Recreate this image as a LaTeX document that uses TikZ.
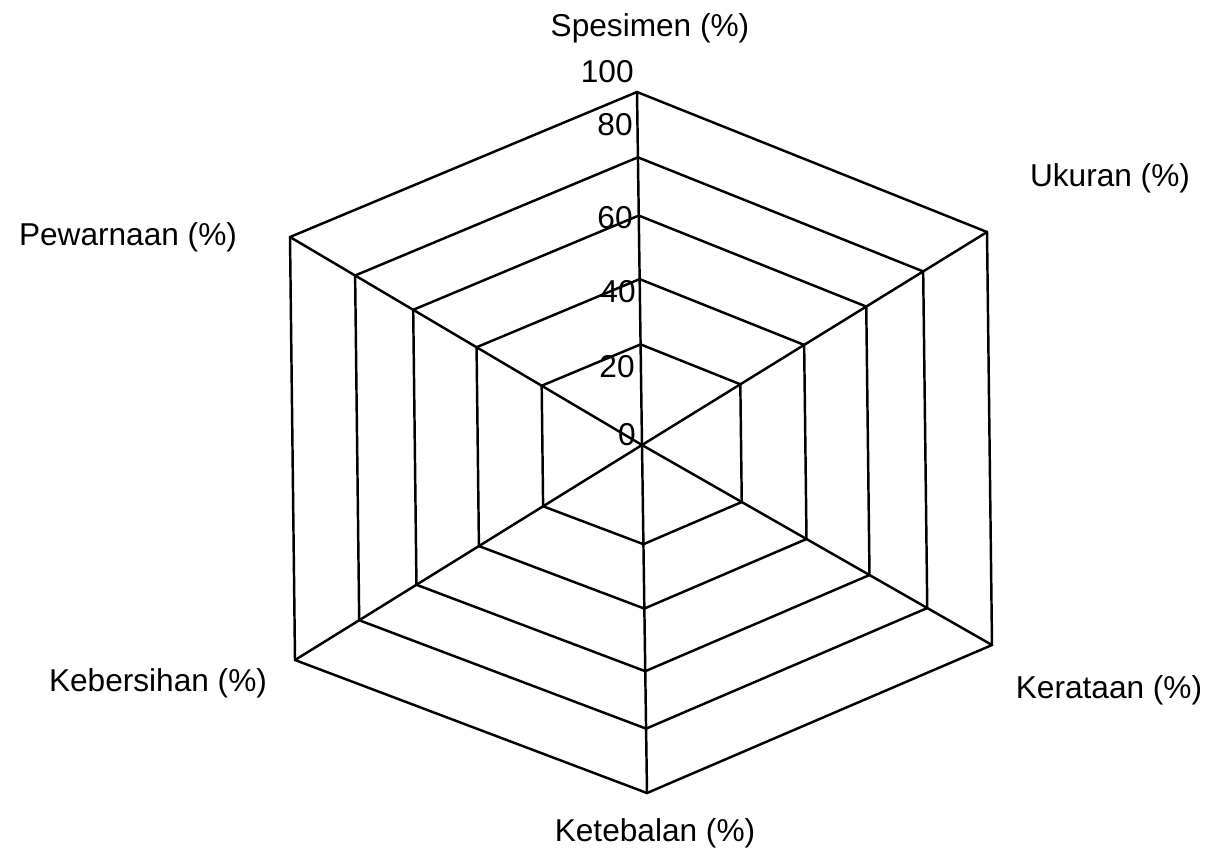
\documentclass[tikz,border=0pt]{standalone}
\usepackage{fontspec}
\setmainfont{Liberation Sans}
\usetikzlibrary{calc}

\begin{document}
\begin{tikzpicture}[
        x=0.02cm, y=-0.02cm,
        jaring/.style={line width=1.4pt, black, line join=miter},
        sumbu/.style={font=\fontsize{18}{20}\selectfont, inner sep=0pt},
        skala/.style={font=\fontsize{18}{20}\selectfont, inner sep=0pt, anchor=east}
    ]
        \useasboundingbox (0,0) rectangle (1223,860);

        \coordinate (pusat) at (642,445);
        \coordinate (spesimen) at (637,92);
        \coordinate (ukuran) at (987,232);
        \coordinate (kerataan) at (992,645);
        \coordinate (ketebalan) at (647,793);
        \coordinate (kebersihan) at (295,660);
        \coordinate (pewarnaan) at (290,237);

        % cincin 20 - 100
        \foreach \r in {0.285,0.47,0.65,0.815,1}
            \draw[jaring] ($(pusat)!\r!(spesimen)$) -- ($(pusat)!\r!(ukuran)$)
                -- ($(pusat)!\r!(kerataan)$) -- ($(pusat)!\r!(ketebalan)$)
                -- ($(pusat)!\r!(kebersihan)$) -- ($(pusat)!\r!(pewarnaan)$) -- cycle;

        % sumbu
        \foreach \v in {spesimen,ukuran,kerataan,ketebalan,kebersihan,pewarnaan}
            \draw[jaring] (pusat) -- (\v);

        \node[sumbu] (lspesimen) at (650,28) {Spesimen (\%)};
        \node[sumbu] (lukuran) at (1110,178) {Ukuran (\%)};
        \node[sumbu] (lkerataan) at (1109,690) {Kerataan (\%)};
        \node[sumbu] (lketebalan) at (655,833) {Ketebalan (\%)};
        \node[sumbu] (lkebersihan) at (158,683) {Kebersihan (\%)};
        \node[sumbu] (lpewarnaan) at (128,237) {Pewarnaan (\%)};

        \node[skala] (s100) at (634,72) {100};
        \node[skala] (s80) at (633,125) {80};
        \node[skala] (s60) at (633,218) {60};
        \node[skala] (s40) at (636,292) {40};
        \node[skala] (s20) at (635,367) {20};
        \node[skala] (s0) at (636,435) {0};
    \end{tikzpicture}
\end{document}
